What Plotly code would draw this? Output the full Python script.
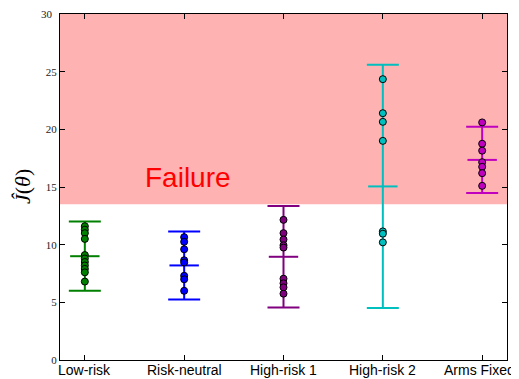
import plotly.graph_objects as go

categories = ["Low-risk", "Risk-neutral", "High-risk 1", "High-risk 2", "Arms Fixed"]
colors = ["#008000", "#0000ff", "#800080", "#00bfbf", "#bf00bf"]
means = [9.0, 8.2, 8.95, 15.05, 17.35]
errs = [3.0, 2.95, 4.4, 10.55, 2.88]

low_risk = [11.6, 11.3, 11.0, 10.5, 9.1, 8.8, 8.5, 8.2, 7.9, 7.6, 6.8]
risk_neutral = [10.65, 10.25, 9.6, 8.65, 8.45, 7.3, 7.0, 6.0]
high_risk_1 = [12.15, 11.0, 10.45, 9.95, 9.75, 7.05, 6.65, 6.3, 5.75]
high_risk_2 = [24.35, 21.4, 20.65, 19.0, 11.15, 10.95, 10.2]
arms_fixed = [20.6, 18.75, 18.15, 17.15, 16.75, 16.2, 15.1]
points = [low_risk, risk_neutral, high_risk_1, high_risk_2, arms_fixed]

failure_threshold = 13.5
y_max = 30
y_ticks = [0, 5, 10, 15, 20, 25, 30]

# page body has an 8px default margin; compensate in the figure size/margins
W, H = 511, 371
ML, MR, MT, MB = 52, 12, 6, 19

fig = go.Figure()

fig.add_shape(type="rect", xref="paper", yref="y", x0=0, x1=1,
              y0=failure_threshold, y1=y_max,
              fillcolor="rgba(255,0,0,0.3)", line=dict(width=0), layer="below")

for i, cat in enumerate(categories):
    fig.add_trace(go.Scatter(
        x=[i], y=[means[i]], mode="markers",
        marker=dict(symbol="line-ew", size=21, line=dict(width=2, color=colors[i]), color=colors[i]),
        error_y=dict(type="data", array=[errs[i]], visible=True, width=16, thickness=2, color=colors[i]),
        showlegend=False, hoverinfo="skip", cliponaxis=False))

for i, pts in enumerate(points):
    fig.add_trace(go.Scatter(
        x=[i] * len(pts), y=pts, mode="markers",
        marker=dict(symbol="circle", size=7, color=colors[i], line=dict(width=1, color="black")),
        showlegend=False, cliponaxis=False))

fig.add_annotation(x=1.035, y=15.8, xref="x", yref="y", text="Failure", showarrow=False,
                   font=dict(family="Liberation Sans, Arial", size=28, color="red"))

plot_w = W - ML - MR
fig.add_annotation(x=(14 - ML) / plot_w, y=0.5, xref="paper", yref="paper",
                   xanchor="center", yanchor="middle",
                   text="<i>Ĵ</i>(<i>θ</i>)", showarrow=False, textangle=-90,
                   font=dict(family="Liberation Serif, serif", size=22, color="black"))

# top tick label drawn explicitly (plotly drops it at the figure edge)
fig.add_annotation(x=0, y=y_ticks[-1], xref="paper", yref="y", xanchor="right", yanchor="middle",
                   xshift=-5, text=str(y_ticks[-1]), showarrow=False,
                   font=dict(family="Liberation Serif, serif", size=11, color="#222"))

# category labels placed tight under the axis so they fit in the window
for i, cat in enumerate(categories):
    fig.add_annotation(x=i, y=0, xref="x", yref="paper", xanchor="center", yanchor="top",
                       xshift=(-2.5 if i == len(categories) - 1 else 0),
                       text=cat, showarrow=False,
                       font=dict(family="Liberation Sans, Arial", size=14, color="black"))

fig.update_layout(
    width=W, height=H,
    margin=dict(l=ML, r=MR, t=MT, b=MB, autoexpand=False),
    plot_bgcolor="white", paper_bgcolor="white",
    xaxis=dict(range=[-0.25, 4.25], tickvals=list(range(len(categories))), showticklabels=False,
               automargin=False,
               showgrid=False, zeroline=False, showline=True, linecolor="black", linewidth=1,
               mirror="ticks", ticks="inside", ticklen=5, tickcolor="black"),
    yaxis=dict(range=[0, y_max], tickvals=y_ticks, automargin=False,
               showgrid=False, zeroline=False, showline=True, linecolor="black", linewidth=1,
               mirror="ticks", ticks="inside", ticklen=5, tickcolor="black",
               tickfont=dict(family="Liberation Serif, serif", size=11, color="#222")),
)

fig.write_html("out.html")
